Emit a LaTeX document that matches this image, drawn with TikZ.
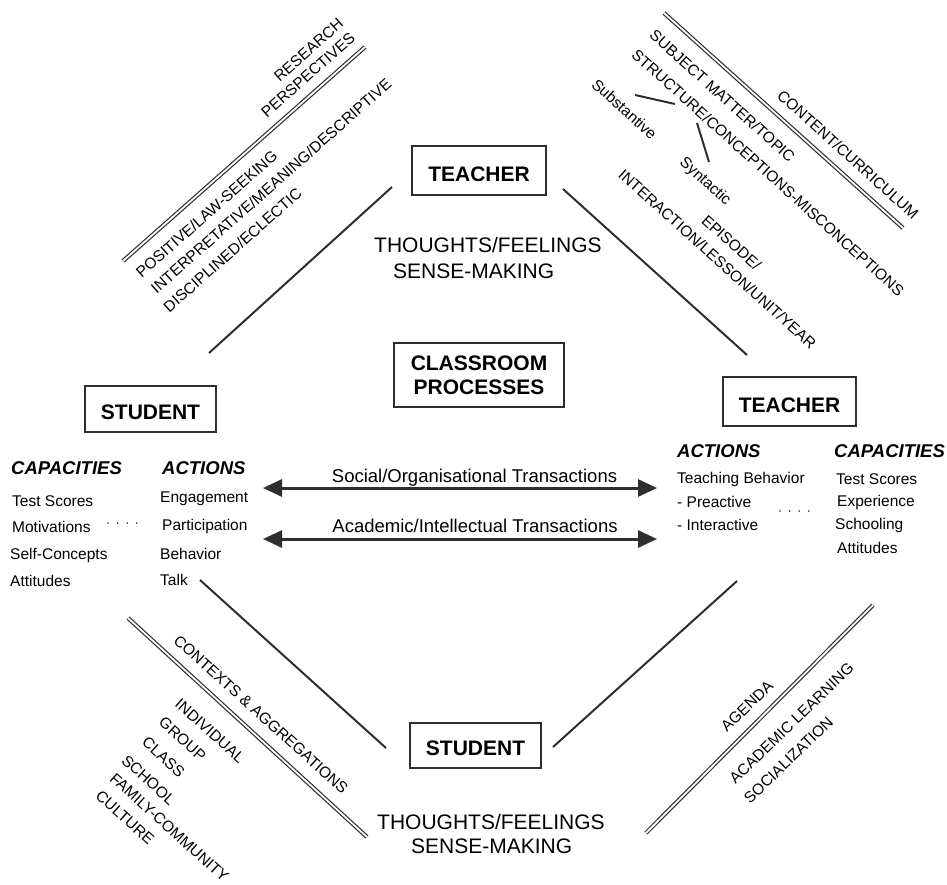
\documentclass[tikz,border=0pt]{standalone}
\usepackage{fontspec}
\setmainfont{Liberation Sans}
\usetikzlibrary{arrows.meta}
\definecolor{ink}{HTML}{2E2E2E}
\begin{document}
\begin{tikzpicture}[x=1pt,y=-1pt,
  box/.style={draw=ink,line width=2pt,inner sep=0pt,font=\fontsize{21}{24}\selectfont\bfseries,align=center},
  big/.style={font=\fontsize{21}{26}\selectfont,inner sep=0pt,anchor=base west},
  small/.style={font=\fontsize{15.5}{18}\selectfont,inner sep=0pt,anchor=base west},
  head/.style={font=\fontsize{18.5}{22}\selectfont\bfseries\itshape,inner sep=0pt,anchor=base west},
  rot/.style={font=\fontsize{15.5}{18}\selectfont,inner sep=0pt,anchor=center},
  translabel/.style={font=\fontsize{18.5}{22}\selectfont,inner sep=0pt,anchor=base},
  link/.style={draw=ink,line width=2pt},
  dbl/.style={draw=ink,line width=1.2pt,double=white,double distance=1.8pt},
  trans/.style={draw=ink,line width=3pt,{Triangle[length=19pt,width=17pt]}-{Triangle[length=19pt,width=17pt]}},
  dots/.style={draw=ink,line width=1.8pt,line cap=round,dash pattern=on 0pt off 9.6pt},
]
\useasboundingbox (0,0) rectangle (947,884);

% boxes
\node[box,minimum width=134pt,minimum height=49pt,text height=22pt] (teacherT) at (479,170.5) {TEACHER};
\node[box,minimum width=131pt,minimum height=46pt,text height=22pt] (studentL) at (150.5,409) {STUDENT};
\node[box,minimum width=133pt,minimum height=49pt,text height=22pt] (teacherR) at (789.5,401.5) {TEACHER};
\node[box,minimum width=131pt,minimum height=45pt,text height=20pt] (studentB) at (475.5,745.5) {STUDENT};
\node[box,minimum width=170pt,minimum height=64pt] (classroom) at (479,375) {CLASSROOM\\PROCESSES};

% thoughts
\node[big] (thoughtsT) at (374,252) {THOUGHTS/FEELINGS};
\node[big] (senseT) at (393,278.5) {SENSE-MAKING};
\node[big] (thoughtsB) at (377,829) {THOUGHTS/FEELINGS};
\node[big] (senseB) at (411,853) {SENSE-MAKING};

% left student columns
\node[head] (capL) at (11,474) {CAPACITIES};
\node[head] (actL) at (162,474) {ACTIONS};
\node[small] (tsL) at (12,506.5) {Test Scores};
\node[small] (motL) at (12,532) {Motivations};
\node[small] (scL) at (10,559) {Self-Concepts};
\node[small] (attL) at (10,586.5) {Attitudes};
\node[small] (engL) at (160,502.5) {Engagement};
\node[small] (parL) at (162,530.5) {Participation};
\node[small] (behL) at (160,559) {Behavior};
\node[small] (talkL) at (160,585.5) {Talk};

% right teacher columns
\node[head] (actR) at (677,457) {ACTIONS};
\node[head] (capR) at (834,457) {CAPACITIES};
\node[small] (tbR) at (677,483.5) {Teaching Behavior};
\node[small] (preR) at (677,507) {- Preactive};
\node[small] (intR) at (677,530) {- Interactive};
\node[small] (tsR) at (836,484) {Test Scores};
\node[small] (expR) at (837,506) {Experience};
\node[small] (schR) at (835,529) {Schooling};
\node[small] (attR) at (837,553) {Attitudes};

% dotted links
\coordinate (dlA) at (108,523); \coordinate (dlB) at (137,523);
\draw[dots] (dlA) -- (dlB);
\coordinate (drA) at (780,511); \coordinate (drB) at (810,511);
\draw[dots] (drA) -- (drB);

% transactions
\coordinate (s1) at (263,488); \coordinate (s2) at (657,488);
\coordinate (a1) at (263,539); \coordinate (a2) at (657,539);
\draw[trans] (s1) -- (s2);
\draw[trans] (a1) -- (a2);
\node[translabel] (socLab) at (474.5,482) {Social/Organisational Transactions};
\node[translabel] (acaLab) at (475,532) {Academic/Intellectual Transactions};

% diagonal single lines
\coordinate (tlA) at (209,353); \coordinate (tlB) at (392,187);
\coordinate (trA) at (563,189); \coordinate (trB) at (747,355);
\coordinate (blA) at (200,580); \coordinate (blB) at (386,748);
\coordinate (brA) at (553,747); \coordinate (brB) at (737,581);
\draw[link] (tlA) -- (tlB);
\draw[link] (trA) -- (trB);
\draw[link] (blA) -- (blB);
\draw[link] (brA) -- (brB);

% double lines
\coordinate (dtlA) at (123,261); \coordinate (dtlB) at (365,47);
\coordinate (dtrA) at (664,13); \coordinate (dtrB) at (903,228);
\coordinate (dblA) at (128,618); \coordinate (dblB) at (367,837);
\coordinate (dbrA) at (646,833); \coordinate (dbrB) at (873,605);
\draw[dbl] (dtlA) -- (dtlB);
\draw[dbl] (dtrA) -- (dtrB);
\draw[dbl] (dblA) -- (dblB);
\draw[dbl] (dbrA) -- (dbrB);

% top-left texts
\node[rot,rotate=41.5] (research) at (308.5,50) {RESEARCH};
\node[rot,rotate=41.5] (persp) at (308,75) {PERSPECTIVES};
\node[rot,rotate=41.5] (positive) at (206.5,214) {POSITIVE/LAW-SEEKING};
\node[rot,rotate=41.5] (interp) at (271,186) {INTERPRETATIVE/MEANING/DESCRIPTIVE};
\node[rot,rotate=41.5] (discip) at (232.5,250) {DISCIPLINED/ECLECTIC};

% top-right texts
\node[rot,rotate=-42] (subject) at (722.5,96) {SUBJECT MATTER/TOPIC};
\node[rot,rotate=-42] (structure) at (768,172.5) {STRUCTURE/CONCEPTIONS-MISCONCEPTIONS};
\node[rot,rotate=-42] (content) at (848,154.5) {CONTENT/CURRICULUM};
\node[rot,rotate=-42] (substantive) at (624.5,109) {Substantive};
\node[rot,rotate=-42] (syntactic) at (705,182) {Syntactic};
\node[rot,rotate=-42] (episode) at (731.5,242.5) {EPISODE/};
\node[rot,rotate=-42] (interaction) at (717.5,259) {INTERACTION/LESSON/UNIT/YEAR};
\coordinate (subA) at (635,95); \coordinate (subB) at (675,104);
\coordinate (synA) at (697,123); \coordinate (synB) at (709,162);
\draw[link] (subA) -- (subB);
\draw[link] (synA) -- (synB);

% bottom-left texts
\node[rot,rotate=-42] (contexts) at (261,714.5) {CONTEXTS \& AGGREGATIONS};
\node[rot,rotate=-42] (individual) at (210,731) {INDIVIDUAL};
\node[rot,rotate=-42] (group) at (182.5,739) {GROUP};
\node[rot,rotate=-42] (class) at (163.5,757) {CLASS};
\node[rot,rotate=-42] (school) at (148.5,780) {SCHOOL};
\node[rot,rotate=-42] (family) at (169.5,827.5) {FAMILY-COMMUNITY};
\node[rot,rotate=-42] (culture) at (125,817.5) {CULTURE};

% bottom-right texts
\node[rot,rotate=44] (agenda) at (747,706) {AGENDA};
\node[rot,rotate=44] (acadlearn) at (791.5,723) {ACADEMIC LEARNING};
\node[rot,rotate=44] (social) at (788.5,760) {SOCIALIZATION};
\end{tikzpicture}
\end{document}
